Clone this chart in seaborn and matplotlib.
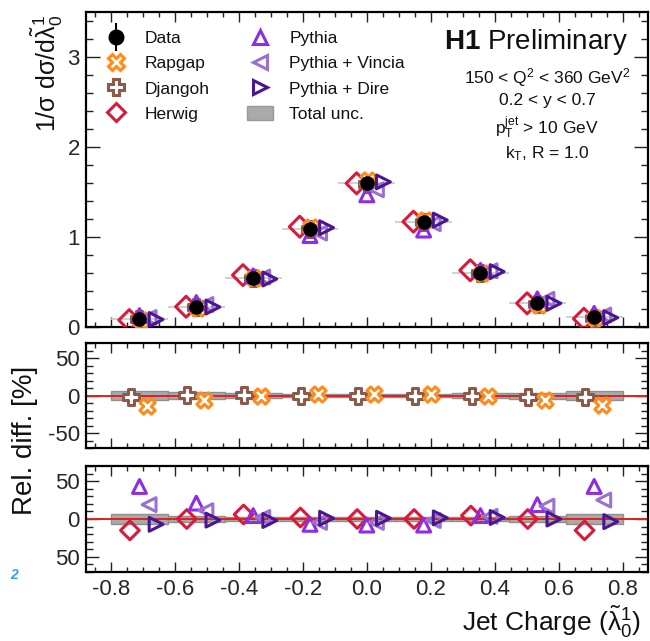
import numpy as np
import pandas as pd
import matplotlib
matplotlib.use("Agg")
import matplotlib.pyplot as plt
import seaborn as sns
from matplotlib.lines import Line2D
from matplotlib.patches import Patch
from matplotlib.ticker import MultipleLocator, FixedLocator, FormatStrFormatter
from matplotlib.legend_handler import HandlerTuple

# ---------------- data ----------------
bin_edges = np.linspace(-0.8, 0.8, 10)
bin_centers = 0.5 * (bin_edges[:-1] + bin_edges[1:])
bin_width = bin_edges[1] - bin_edges[0]

data_vals = [0.086, 0.222, 0.541, 1.089, 1.593, 1.167, 0.600, 0.260, 0.104]
total_unc_pct = [6.0, 4.4, 2.9, 2.0, 2.0, 2.0, 2.9, 4.0, 6.2]

rapgap_rel = [-14, -6, -0.5, 2, 2, 2, 0, -6, -12]
djangoh_rel = [-2, 1, 1, 0, -0.5, -0.5, -0.5, -1.5, -2]
herwig_rel = [-15, 0, 6, 2, 0, 0, 4.5, 0, -15]
pythia_rel = [43, 21, 4.5, -7, -8, -8, 4.5, 19, 43]
vincia_rel = [19, 11, 2, -4.5, -4.5, -2, 3.5, 17, 25]
dire_rel = [-7, -1.5, -2, 1, 1, 1.5, 2, 0, -3.5]

x_ticks = [-0.8, -0.6, -0.4, -0.2, 0.0, 0.2, 0.4, 0.6, 0.8]

# ---------------- style ----------------
sns.set_theme(style="ticks")
plt.rcParams["font.family"] = ["Liberation Sans", "DejaVu Sans"]
plt.rcParams["mathtext.fontset"] = "custom"
plt.rcParams["mathtext.rm"] = "Liberation Sans"
plt.rcParams["mathtext.it"] = "Liberation Sans:italic"
plt.rcParams["mathtext.bf"] = "Liberation Sans:bold"
plt.rcParams["mathtext.sf"] = "Liberation Sans"
plt.rcParams["axes.unicode_minus"] = False

C_RAP = "#ff8c1a"
C_DJA = "#8c5a4a"
C_HER = "#d81b3c"
C_PYT = "#8e2de2"
C_VIN = "#9a70d0"
C_DIR = "#4a1690"
C_UNC = "#aaaaaa"

# model styles: name -> (rel values, ratio offset, top offset, marker, size, color, face)
models = {
    "Herwig": (herwig_rel, -0.030, -0.032, "D", 9.5, C_HER, "none"),
    "Djangoh": (djangoh_rel, -0.028, 0.0, "P", 11.0, C_DJA, "white"),
    "Rapgap": (rapgap_rel, 0.024, 0.004, "X", 11.0, C_RAP, "white"),
    "Pythia": (pythia_rel, 0.0, 0.0, "^", 10.0, C_PYT, "none"),
    "Pythia + Vincia": (vincia_rel, 0.030, 0.030, "<", 10.0, C_VIN, "none"),
    "Pythia + Dire": (dire_rel, 0.052, 0.052, ">", 10.0, C_DIR, "none"),
}

W, H = 650, 641
fig = plt.figure(figsize=(W / 100, H / 100), dpi=100)

def frac_axes(left, top, right, bottom):
    return fig.add_axes([left / W, 1 - bottom / H, (right - left) / W, (bottom - top) / H])

ax1 = frac_axes(85.5, 11.7, 647.5, 326.7)
ax2 = frac_axes(85.5, 343, 647.5, 448)
ax3 = frac_axes(85.5, 466, 647.5, 572)

XLIM = (-0.88, 0.878)

def style_axis(ax, ymin, ylen):
    ax.set_xlim(*XLIM)
    ax.xaxis.set_major_locator(FixedLocator(x_ticks))
    ax.xaxis.set_minor_locator(MultipleLocator(0.05))
    ax.yaxis.set_minor_locator(MultipleLocator(ymin))
    ax.tick_params(which="both", direction="in", top=True, right=True,
                   color="#222222", width=1.0, labelsize=16, pad=4)
    ax.tick_params(axis="x", which="major", length=7.5)
    ax.tick_params(axis="x", which="minor", length=3.8)
    ax.tick_params(axis="y", which="major", length=ylen)
    ax.tick_params(axis="y", which="minor", length=ylen / 2)
    for s in ax.spines.values():
        s.set_linewidth(1.6)
        s.set_color("black")
    ax.set_xlabel("")
    ax.set_ylabel("")

# ---------------- top panel ----------------
data_arr = np.array(data_vals)
df_top = pd.DataFrame({"x": bin_centers, "y": data_arr})
ax1.errorbar(bin_centers, data_arr, xerr=bin_width / 2,
             yerr=data_arr * np.array(total_unc_pct) / 100,
             fmt="none", ecolor="#c8c8c8", elinewidth=1.2, zorder=1)
order = ["Herwig", "Djangoh", "Rapgap", "Pythia", "Pythia + Vincia", "Pythia + Dire"]
for name in order:
    rel, off, toff, mk, ms, col, face = models[name]
    yv = data_arr * (1 + np.array(rel) / 100.0)
    size = ms * 1.12 if name == "Herwig" else ms
    sns.scatterplot(x=bin_centers + toff, y=yv, ax=ax1, marker=mk, s=size ** 2,
                    facecolors=face, edgecolors=col, linewidths=2.2, zorder=3)
sns.scatterplot(data=df_top, x="x", y="y", ax=ax1, marker="o", s=10.5 ** 2,
                color="black", edgecolor="black", linewidth=0, zorder=5)
ax1.set_ylim(0, 3.5)
style_axis(ax1, 0.2, 10)
ax1.yaxis.set_major_locator(FixedLocator([0, 1, 2, 3]))
ax1.set_yticklabels(["0", "1", "2", "3"])
ax1.tick_params(axis="x", labelbottom=False)

# legend
h_data = (Line2D([], [], marker="|", ms=20, mew=1.5, color="black", ls="none"),
          Line2D([], [], marker="o", ms=10.5, color="black", ls="none"))
def mh(name):
    rel, off, toff, mk, ms, col, face = models[name]
    return Line2D([], [], marker=mk, ms=ms, mfc=face, mec=col, mew=2.2, ls="none")
handles = [h_data, mh("Rapgap"), mh("Djangoh"), mh("Herwig"),
           mh("Pythia"), mh("Pythia + Vincia"), mh("Pythia + Dire"),
           Patch(facecolor=C_UNC, edgecolor="#999999")]
labels = ["Data", "Rapgap", "Djangoh", "Herwig", "Pythia", "Pythia + Vincia",
          "Pythia + Dire", "Total unc."]
leg = ax1.legend(handles, labels, ncol=2, loc="upper left",
                 bbox_to_anchor=((103.0 - 85.5) / 562, 0.942), borderaxespad=0,
                 borderpad=0, frameon=False, fontsize=12.5, handlelength=1.5,
                 handleheight=0.9, handletextpad=0.92, labelspacing=0.52,
                 columnspacing=2.15, handler_map={tuple: HandlerTuple(ndivide=1, pad=0)})
for t in leg.get_texts():
    t.set_color("#111111")

fig.text(628 / W, 1 - 41.7 / H, r"$\mathbf{H1}$ Preliminary", fontsize=20,
         ha="right", va="center", color="#111111")
cond = [r"150 < Q$^2$ < 360 GeV$^2$", "0.2 < y < 0.7",
        r"p$_\mathrm{T}^\mathrm{jet}$ > 10 GeV", r"k$_\mathrm{T}$, R = 1.0"]
cond_y = [77.5, 100, 128, 154]
for t, yy in zip(cond, cond_y):
    fig.text(547 / W, 1 - yy / H, t, fontsize=12.5, ha="center", va="center",
             color="#111111")

# ---------------- ratio panels ----------------
unc = np.array(total_unc_pct)

def ratio_panel(ax, names, ylabels):
    ax.bar(bin_centers, 2 * unc, bottom=-unc, width=bin_width, color=C_UNC,
           edgecolor="#8f8f8f", linewidth=1.0, zorder=1)
    ax.axhline(0, color="#e0201e", lw=1.4, zorder=2)
    for name in names:
        rel, off, toff, mk, ms, col, face = models[name]
        sns.scatterplot(x=bin_centers + off, y=np.array(rel, dtype=float), ax=ax,
                        marker=mk, s=ms ** 2, facecolors=face, edgecolors=col,
                        linewidths=2.2, zorder=3)
    ax.set_ylim(-70, 70)
    style_axis(ax, 10, 9.5)
    ax.yaxis.set_major_locator(FixedLocator([-50, 0, 50]))
    ax.set_yticklabels(ylabels)

ratio_panel(ax2, ["Djangoh", "Rapgap"], ["-50", "0", "50"])
ax2.tick_params(axis="x", labelbottom=False)
ratio_panel(ax3, ["Herwig", "Pythia", "Pythia + Vincia", "Pythia + Dire"], ["50", "0", "50"])
ax3.xaxis.set_major_formatter(FormatStrFormatter("%.1f"))
ax3.tick_params(axis="x", pad=5)

# ---------------- axis titles ----------------
fig.text(47 / W, 1 - 15 / H, r"1/σ dσ/d$\mathregular{\tilde{\lambda}_0^1}$",
         rotation=90, ha="center", va="top", fontsize=18, color="#111111")
fig.text(25 / W, 1 - 440 / H, "Rel. diff. [%]", rotation=90, ha="center",
         va="center", fontsize=20, color="#111111")
fig.text(641 / W, 1 - 631 / H, r"Jet Charge ($\mathregular{\tilde{\lambda}_0^1}$)",
         ha="right", va="baseline", fontsize=19, color="#111111")
fig.text(14 / W, 1 - 575 / H, "2", color="#3aa0e0", fontsize=10, style="italic",
         fontweight="bold", ha="center", va="center")

fig.savefig("out.png", dpi=100)
